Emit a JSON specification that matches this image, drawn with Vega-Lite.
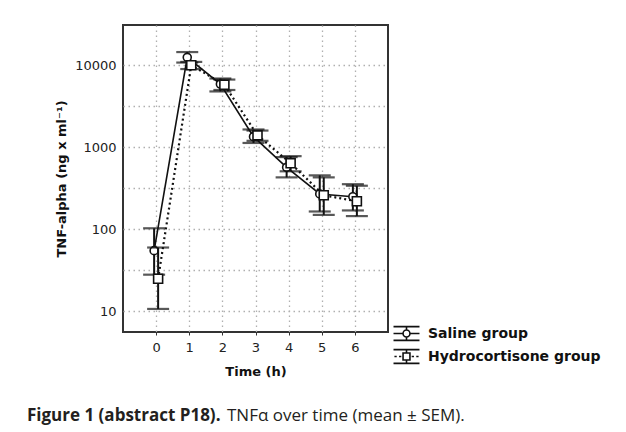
{
  "$schema": "https://vega.github.io/schema/vega-lite/v6.json",
  "width": 265,
  "height": 307,
  "autosize": {"type": "none"},
  "padding": {"left": 123, "top": 25, "right": 238, "bottom": 100},
  "background": "white",
  "config": {
    "view": {"stroke": "#333", "strokeWidth": 2},
    "axis": {
      "labelFont": "DejaVu Sans", "labelFontSize": 13, "labelColor": "#222",
      "titleFont": "DejaVu Sans", "titleFontWeight": "bold", "titleFontSize": 13, "titleColor": "#111",
      "grid": true, "gridColor": "#b0b0b0", "gridDash": [1.5, 3.5], "gridWidth": 1.3, "domain": false
    }
  },
  "data": {"values": [
    {"group": "Saline group", "time": 0, "mean": 55, "low": 28, "high": 103},
    {"group": "Saline group", "time": 1, "mean": 12500, "low": 10800, "high": 14500},
    {"group": "Saline group", "time": 2, "mean": 5900, "low": 4800, "high": 6900},
    {"group": "Saline group", "time": 3, "mean": 1350, "low": 1130, "high": 1650},
    {"group": "Saline group", "time": 4, "mean": 570, "low": 430, "high": 760},
    {"group": "Saline group", "time": 5, "mean": 270, "low": 165, "high": 455},
    {"group": "Saline group", "time": 6, "mean": 250, "low": 170, "high": 355},
    {"group": "Hydrocortisone group", "time": 0, "mean": 25, "low": 10.7, "high": 60},
    {"group": "Hydrocortisone group", "time": 1, "mean": 10000, "low": 9000, "high": 11000},
    {"group": "Hydrocortisone group", "time": 2, "mean": 5800, "low": 5000, "high": 6700},
    {"group": "Hydrocortisone group", "time": 3, "mean": 1400, "low": 1200, "high": 1600},
    {"group": "Hydrocortisone group", "time": 4, "mean": 640, "low": 510, "high": 780},
    {"group": "Hydrocortisone group", "time": 5, "mean": 260, "low": 150, "high": 430},
    {"group": "Hydrocortisone group", "time": 6, "mean": 220, "low": 145, "high": 340}
  ]},
  "encoding": {
    "x": {
      "field": "time", "type": "quantitative",
      "scale": {"domain": [-1, 7], "nice": false, "zero": false},
      "axis": {"values": [0, 1, 2, 3, 4, 5, 6], "title": "Time (h)", "labelPadding": 6, "tickSize": 3, "tickColor": "#333", "titlePadding": 11, "labelAngle": 0}
    }
  },
  "layer": [
    {
      "transform": [{"filter": "datum.group == 'Saline group'"}],
      "layer": [
        {
          "mark": {"type": "line", "color": "#111", "strokeWidth": 1.6, "xOffset": -2},
          "encoding": {
            "y": {"field": "mean", "type": "quantitative", "scale": {"type": "log", "domain": [5.6, 31000], "nice": false},
              "axis": {"values": [10, 31.62, 100, 316.2, 1000, 3162, 10000], "labelExpr": "datum.value == 10 || datum.value == 100 || datum.value == 1000 || datum.value == 10000 ? format(datum.value, 'd') : ''", "ticks": false, "labelPadding": 7, "title": "TNF-alpha (ng x ml⁻¹)", "titlePadding": 6}}
          }
        },
        {
          "mark": {"type": "rule", "color": "#111", "strokeWidth": 2, "xOffset": -2},
          "encoding": {
            "y": {"field": "low", "type": "quantitative", "scale": {"type": "log", "domain": [5.6, 31000], "nice": false}},
            "y2": {"field": "high"}
          }
        },
        {
          "mark": {"type": "tick", "orient": "horizontal", "size": 22, "thickness": 2.2, "color": "#111", "xOffset": -2},
          "encoding": {"y": {"field": "low", "type": "quantitative", "scale": {"type": "log", "domain": [5.6, 31000], "nice": false}}}
        },
        {
          "mark": {"type": "tick", "orient": "horizontal", "size": 22, "thickness": 2.2, "color": "#111", "xOffset": -2},
          "encoding": {"y": {"field": "high", "type": "quantitative", "scale": {"type": "log", "domain": [5.6, 31000], "nice": false}}}
        },
        {
          "mark": {"type": "point", "shape": "circle", "size": 64, "filled": true, "fill": "white", "stroke": "#111", "strokeWidth": 1.6, "opacity": 1, "xOffset": -2},
          "encoding": {"y": {"field": "mean", "type": "quantitative", "scale": {"type": "log", "domain": [5.6, 31000], "nice": false}}}
        }
      ]
    },
    {
      "transform": [{"filter": "datum.group == 'Hydrocortisone group'"}],
      "layer": [
        {
          "mark": {"type": "line", "color": "#111", "strokeWidth": 2.2, "strokeDash": [2, 3], "xOffset": 2},
          "encoding": {"y": {"field": "mean", "type": "quantitative", "scale": {"type": "log", "domain": [5.6, 31000], "nice": false}}}
        },
        {
          "mark": {"type": "rule", "color": "#111", "strokeWidth": 2, "xOffset": 2},
          "encoding": {
            "y": {"field": "low", "type": "quantitative", "scale": {"type": "log", "domain": [5.6, 31000], "nice": false}},
            "y2": {"field": "high"}
          }
        },
        {
          "mark": {"type": "tick", "orient": "horizontal", "size": 22, "thickness": 2.2, "color": "#111", "xOffset": 2},
          "encoding": {"y": {"field": "low", "type": "quantitative", "scale": {"type": "log", "domain": [5.6, 31000], "nice": false}}}
        },
        {
          "mark": {"type": "tick", "orient": "horizontal", "size": 22, "thickness": 2.2, "color": "#111", "xOffset": 2},
          "encoding": {"y": {"field": "high", "type": "quantitative", "scale": {"type": "log", "domain": [5.6, 31000], "nice": false}}}
        },
        {
          "mark": {"type": "point", "shape": "square", "size": 81, "filled": true, "fill": "white", "stroke": "#111", "strokeWidth": 1.6, "opacity": 1, "xOffset": 2},
          "encoding": {"y": {"field": "mean", "type": "quantitative", "scale": {"type": "log", "domain": [5.6, 31000], "nice": false}}}
        }
      ]
    },
    {
      "mark": {"type": "point", "filled": false},
      "encoding": {
        "y": {"field": "mean", "type": "quantitative", "scale": {"type": "log", "domain": [5.6, 31000], "nice": false}},
        "shape": {
          "field": "group", "type": "nominal",
          "scale": {
            "domain": ["Saline group", "Hydrocortisone group"],
            "range": [
              "M-1.13,-0.6H1.13M-1.13,0.6H1.13M0,-0.6V-0.3M0,0.3V0.6M-1.13,0H-0.3M0.3,0H1.13M0.3,0A0.3,0.3 0 1 1 -0.3,0A0.3,0.3 0 1 1 0.3,0Z",
              "M-1.13,-0.6H1.13M-1.13,0.6H1.13M0,-0.6V-0.3M0,0.3V0.6M-1.05,0H-0.85M-0.65,0H-0.45M0.45,0H0.65M0.85,0H1.05M-0.3,-0.3H0.3V0.3H-0.3Z"
            ]
          },
          "legend": {
            "orient": "none", "legendX": 271, "legendY": 296, "title": null, "padding": 0, "rowPadding": 0,
            "labelFont": "DejaVu Sans", "labelFontSize": 14, "labelFontWeight": "bold", "labelColor": "#111", "labelOffset": 9, "labelLimit": 400,
            "symbolSize": 529, "symbolOpacity": 1, "symbolStrokeColor": "#111", "symbolFillColor": "white", "symbolStrokeWidth": 1.6
          }
        },
        "opacity": {
          "field": "mean", "type": "quantitative", "scale": {"range": [0, 0]},
          "legend": {
            "orient": "none", "legendX": -96, "legendY": 396, "padding": 0, "values": [100],
            "title": "Figure 1 (abstract P18).", "titleFont": "Open Sans", "titleFontSize": 17, "titleFontWeight": "bold", "titleColor": "#231f20", "titleLimit": 500, "titleBaseline": "alphabetic",
            "labelExpr": "''", "symbolOpacity": 0, "symbolStrokeWidth": 0, "symbolSize": 1
          }
        },
        "size": {
          "field": "time", "type": "quantitative",
          "legend": {
            "orient": "none", "legendX": 104, "legendY": 396, "padding": 0, "values": [0],
            "title": "TNFα over time (mean ± SEM).", "titleFont": "Open Sans", "titleFontSize": 17, "titleFontWeight": "normal", "titleColor": "#231f20", "titleLimit": 500, "titleBaseline": "alphabetic",
            "labelExpr": "''", "symbolOpacity": 0, "symbolStrokeWidth": 0, "symbolSize": 1
          }
        }
      }
    }
  ]
}
